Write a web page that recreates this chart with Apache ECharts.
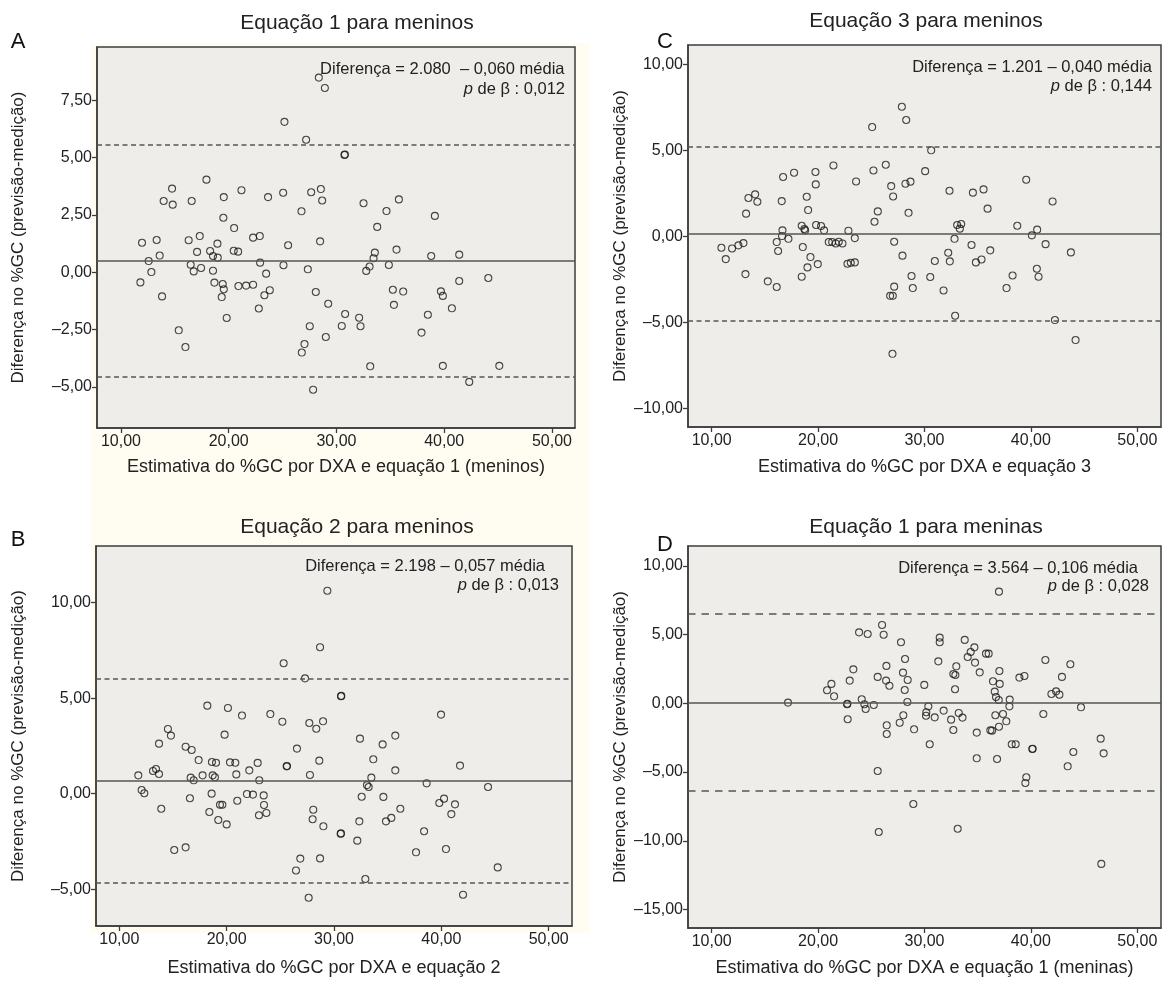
<!DOCTYPE html>
<html><head><meta charset="utf-8">
<script src="https://cdn.jsdelivr.net/npm/echarts@6/dist/echarts.min.js"></script>
<style>
html,body{margin:0;padding:0;background:#fff}
#wrap{position:relative;width:1168px;height:985px}
#cream{position:absolute;left:91px;top:43px;width:499px;height:890px;background:#fffdf2}
#c{position:absolute;left:0;top:0;width:1168px;height:985px}
</style>
</head><body><div id="wrap"><div id="cream"></div><div id="c"></div></div>
<script>
// ---------- DATA ----------
const TITLES = ['Equação 1 para meninos', 'Equação 3 para meninos', 'Equação 2 para meninos', 'Equação 1 para meninas'];
const LETTERS = ['A', 'C', 'B', 'D'];
const XNAMES = ['Estimativa do %GC por DXA e equação 1 (meninos)', 'Estimativa do %GC por DXA e equação 3', 'Estimativa do %GC por DXA e equação 2', 'Estimativa do %GC por DXA e equação 1 (meninas)'];
const YNAME = 'Diferença no %GC (previsão-medição)';
const EQUATIONS = ['Diferença = 2.080  – 0,060 média', 'Diferença = 1.201 – 0,040 média', 'Diferença = 2.198 – 0,057 média', 'Diferença = 3.564 – 0,106 média'];
const PVALUES = ['0,012', '0,144', '0,013', '0,028'];

const X_TICKS = [10, 20, 30, 40, 50];
const A_YTICKS = [-5, -2.5, 0, 2.5, 5, 7.5];
const C_YTICKS = [-10, -5, 0, 5, 10];
const B_YTICKS = [-5, 0, 5, 10];
const D_YTICKS = [-15, -10, -5, 0, 5, 10];

// reference lines: [mean, upper limit, lower limit]
const A_LINES = [0.51, 5.58, -4.55];
const C_LINES = [0.18, 5.21, -4.90];
const B_LINES = [0.68, 6.02, -4.68];
const D_LINES = [0.07, 6.50, -6.38];

const A_X = [28.36,28.92,25.17,27.18,17.93,14.74,13.96,14.80,16.56,19.54,21.18,23.65,25.05,27.65,28.55,28.67,26.75,19.50,20.50,11.95,13.31,13.59,12.57,12.82,11.80,13.81,16.28,17.31,17.06,16.47,16.75,17.43,18.27,18.54,18.95,18.98,18.54,18.67,19.44,19.54,19.35,19.81,20.46,20.87,20.90,21.61,22.26,22.26,22.88,22.91,23.47,23.31,23.81,22.79,15.36,15.98,25.51,25.08,27.34,28.48,28.08,29.23,27.52,29.01,27.03,26.78,27.83,
30.74,30.78,32.51,35.79,34.64,39.13,33.78,33.56,33.44,35.57,38.79,41.39,33.07,32.76,34.86,44.09,41.39,35.23,36.19,39.69,39.87,35.33,40.71,30.80,32.10,30.49,32.23,38.48,37.89,33.13,39.87,45.11,42.32];
const A_Y = [8.49,8.04,6.56,5.78,4.04,3.65,3.11,2.95,3.11,3.28,3.58,3.28,3.47,3.49,3.63,3.13,2.66,2.38,1.93,1.29,1.41,0.73,0.49,0.01,-0.44,-1.05,1.40,1.58,0.89,0.33,0.04,0.19,0.93,0.71,1.25,0.64,0.07,-0.45,-0.51,-0.74,-1.08,-1.99,0.94,0.90,-0.60,-0.58,-0.54,1.51,1.58,0.42,-0.06,-1.00,-0.78,-1.58,-2.53,-3.26,1.18,0.31,0.13,1.35,-0.86,-1.37,-2.35,-2.82,-3.13,-3.50,-5.12,
5.12,5.14,3.01,3.18,2.67,2.46,1.98,0.86,0.61,0.99,0.71,0.77,0.25,0.06,0.32,-0.25,-0.38,-0.76,-0.84,-0.83,-1.03,-1.42,-1.57,-1.82,-1.98,-2.34,-2.35,-1.85,-2.63,-4.10,-4.08,-4.08,-4.78];

const C_X = [27.87,28.28,25.08,21.44,26.36,25.20,17.74,19.75,16.71,19.78,23.57,26.87,28.21,28.68,27.05,14.08,13.45,14.29,16.58,18.93,19.06,13.23,25.61,28.50,25.30,18.46,18.71,18.78,19.81,20.28,20.56,16.65,16.61,17.21,16.11,16.24,12.98,12.51,11.91,10.91,11.32,13.17,15.27,16.11,18.56,19.28,19.00,18.46,19.97,21.00,21.32,21.66,21.94,22.29,22.85,23.45,22.76,23.07,23.45,27.15,27.93,28.78,28.90,27.15,26.77,27.02,26.99,
30.63,30.06,39.56,32.35,34.55,35.55,42.04,35.93,38.72,33.07,33.45,33.32,40.59,40.09,32.82,34.42,41.38,36.18,43.76,32.23,32.38,30.97,34.83,35.36,40.56,40.72,38.28,37.71,30.54,31.79,32.88,42.26,44.20];
const C_Y = [7.53,6.76,6.35,4.12,4.16,3.83,3.70,3.74,3.45,3.02,3.19,2.92,3.06,3.18,2.32,2.44,2.23,2.01,2.05,2.30,1.53,1.32,1.45,1.37,0.85,0.62,0.43,0.35,0.66,0.60,0.35,0.35,0.02,-0.14,-0.33,-0.85,-0.39,-0.52,-0.70,-0.66,-1.32,-2.19,-2.61,-2.94,-0.62,-1.20,-1.80,-2.34,-1.61,-0.33,-0.33,-0.41,-0.31,-0.41,0.33,-0.10,-1.59,-1.53,-1.51,-0.31,-1.12,-2.30,-3.00,-2.92,-3.45,-3.45,-6.82,
5.00,3.79,3.29,2.65,2.54,2.73,2.03,1.61,0.62,0.66,0.72,0.45,0.39,0.06,-0.14,-0.50,-0.45,-0.81,-0.93,-0.95,-1.45,-1.43,-1.51,-1.34,-1.88,-2.34,-2.27,-3.00,-2.36,-3.14,-4.61,-4.86,-6.02];

const B_X = [29.38,28.70,25.31,27.30,30.65,30.68,18.20,20.12,21.43,24.07,25.19,27.70,28.35,28.98,39.97,14.53,14.81,13.70,19.81,32.42,35.71,34.53,16.18,16.74,26.55,17.39,18.63,19.01,20.31,20.81,22.89,28.63,33.66,25.59,25.62,41.74,35.71,22.11,13.14,13.42,13.70,11.77,16.65,16.93,17.76,18.70,18.91,20.90,23.04,27.76,33.48,33.07,33.23,38.63,44.35,12.08,12.33,18.60,21.89,22.45,23.45,16.58,20.99,32.58,34.60,39.81,40.25,41.27,13.91,19.38,19.60,23.48,18.39,23.70,23.01,28.07,36.18,40.93,19.22,20.00,28.01,29.01,32.36,34.84,35.34,30.62,30.65,38.39,32.17,15.12,16.18,37.64,40.43,26.86,28.70,26.46,32.92,45.25,27.64,42.02];
const B_Y = [10.63,7.67,6.83,6.04,5.10,5.12,4.61,4.49,4.09,4.17,3.77,3.70,3.40,3.79,4.14,3.39,3.04,2.62,3.09,2.88,3.04,2.58,2.46,2.29,2.36,1.76,1.66,1.62,1.64,1.62,1.61,1.73,1.80,1.43,1.45,1.47,1.22,1.22,1.19,1.29,1.03,0.96,0.84,0.70,0.96,0.96,0.86,1.01,0.70,0.98,0.84,0.45,0.35,0.54,0.35,0.19,0.02,0.00,-0.02,-0.05,-0.09,-0.24,-0.37,-0.16,-0.17,-0.49,-0.26,-0.56,-0.79,-0.58,-0.58,-0.59,-0.96,-1.01,-1.13,-0.84,-0.79,-1.07,-1.38,-1.61,-1.34,-1.71,-1.45,-1.45,-1.27,-2.10,-2.08,-1.97,-2.46,-2.95,-2.81,-3.07,-2.90,-3.40,-3.39,-4.02,-4.47,-3.86,-5.45,-5.29];

const D_X = [26.01,23.85,24.66,26.16,27.79,28.17,26.42,27.98,23.31,22.97,21.25,20.84,21.50,25.60,26.39,26.70,28.42,28.14,29.98,17.17,22.72,22.75,24.10,24.35,24.47,25.23,28.39,22.78,28.01,27.67,26.45,26.45,29.02,25.60,28.95,25.70,
37.00,31.43,31.43,33.78,34.69,34.34,34.06,35.78,36.03,31.30,32.99,34.75,41.36,43.71,35.19,32.71,32.90,37.04,38.92,39.39,42.92,32.87,36.44,37.07,36.60,36.72,36.98,38.01,37.98,41.93,42.37,42.68,30.36,30.17,30.14,30.96,31.80,33.22,33.57,32.50,32.71,36.66,37.38,37.69,37.00,36.19,36.35,34.91,44.71,41.17,30.49,38.20,38.57,40.14,40.16,46.56,43.99,46.84,43.46,34.91,36.82,39.57,39.48,33.12,46.62];
const D_Y = [5.70,5.16,5.04,4.99,4.44,3.22,2.72,2.23,2.47,1.65,1.41,0.95,0.51,1.92,1.65,1.28,1.70,0.97,1.34,0.05,-0.07,-0.03,0.29,-0.07,-0.41,-0.12,0.10,-1.16,-0.87,-1.41,-1.60,-2.23,-1.89,-4.92,-7.32,-9.36,
8.12,4.78,4.44,4.61,4.07,3.73,3.37,3.61,3.61,3.05,2.69,2.96,3.15,2.84,2.25,2.13,2.06,2.35,1.87,1.99,1.92,1.02,1.60,1.41,0.85,0.46,0.24,0.27,-0.22,0.68,0.87,0.63,-0.22,-0.65,-0.90,-1.02,-0.53,-0.70,-1.04,-1.19,-1.94,-0.87,-0.78,-1.31,-1.70,-1.96,-1.99,-2.13,-0.29,-0.78,-2.98,-2.98,-2.98,-3.32,-3.30,-2.57,-3.54,-3.64,-4.58,-4.00,-4.05,-5.38,-5.79,-9.12,-11.68];

// ---------- LAYOUT ----------
const FONT = "'Liberation Sans', Arial, Helvetica, sans-serif";
const TXT = '#222';
const panels = [
  {xs:A_X, ys:A_Y, lines:A_LINES, yt:A_YTICKS, grid:{left:97, top:47, width:478, height:381}, xr:[7.773,52.135], yr:[-6.79,9.825], xng:30, yng:70, title:[357,23.5], letter:[18,42], eq:[[564.5,69.5],[565,89.5]], dash:[5,3.5]},
  {xs:C_X, ys:C_Y, lines:C_LINES, yt:C_YTICKS, grid:{left:688, top:45, width:473, height:382}, xr:[7.77,52.23], yr:[-11.07,11.115], xng:31, yng:59, title:[926,21], letter:[665,42], eq:[[1152,67.5],[1152,86]], dash:[5,3.5]},
  {xs:B_X, ys:B_Y, lines:B_LINES, yt:B_YTICKS, grid:{left:96, top:546, width:476, height:380}, xr:[7.83,52.17], yr:[-6.93,12.97], xng:33, yng:69, title:[357,527], letter:[18,540], eq:[[545,566.7],[559,585.7]], dash:[5,3.5]},
  {xs:D_X, ys:D_Y, lines:D_LINES, yt:D_YTICKS, grid:{left:688, top:546, width:473, height:382}, xr:[7.77,52.23], yr:[-16.34,11.44], xng:31, yng:59, title:[926,527], letter:[665,545], eq:[[1138,568],[1149,586]], dash:[7.5,6]}
];

function fmt(v){
  const s = Math.abs(v).toFixed(2).replace('.', ',');
  return v < 0 ? '–' + s : s;
}

const grids = [], xAxes = [], yAxes = [], series = [], graphics = [];
panels.forEach((p, i) => {
  grids.push(Object.assign({show:true, backgroundColor:'#eeedea', borderColor:'#3c3c3c', borderWidth:1.5, containLabel:false}, p.grid));
  xAxes.push({
    type:'value', gridIndex:i, min:p.xr[0], max:p.xr[1],
    axisLine:{show:true, onZero:false, lineStyle:{color:'#3c3c3c', width:1.5}},
    splitLine:{show:false},
    axisTick:{show:true, customValues:X_TICKS, length:5, lineStyle:{color:'#3c3c3c', width:1.3}},
    axisLabel:{customValues:X_TICKS, formatter:fmt, fontSize:16, color:TXT, fontFamily:FONT, margin:6},
    name:XNAMES[i], nameLocation:'middle', nameGap:p.xng,
    nameTextStyle:{fontSize:18, color:TXT, fontFamily:FONT}
  });
  yAxes.push({
    type:'value', gridIndex:i, min:p.yr[0], max:p.yr[1],
    axisLine:{show:true, onZero:false, lineStyle:{color:'#3c3c3c', width:1.5}},
    splitLine:{show:false},
    axisTick:{show:true, customValues:p.yt, length:5, lineStyle:{color:'#3c3c3c', width:1.3}},
    axisLabel:{customValues:p.yt, formatter:fmt, fontSize:16, color:TXT, fontFamily:FONT, margin:5},
    name:YNAME, nameLocation:'middle', nameGap:p.yng,
    nameTextStyle:{fontSize:17, color:TXT, fontFamily:FONT}
  });
  series.push({
    type:'scatter', xAxisIndex:i, yAxisIndex:i,
    data:p.xs.map((x, k) => [x, p.ys[k]]),
    symbol:'circle', symbolSize:7,
    itemStyle:{color:'rgba(0,0,0,0)', borderColor:'#1a1a1a', borderWidth:1.1},
    emphasis:{disabled:true},
    markLine:{
      silent:true, symbol:['none','none'], label:{show:false}, animation:false,
      data:[
        {yAxis:p.lines[0], lineStyle:{type:'solid', color:'#555', width:1.6}},
        {yAxis:p.lines[1], lineStyle:{type:p.dash, color:'#555', width:1.6}},
        {yAxis:p.lines[2], lineStyle:{type:p.dash, color:'#555', width:1.6}}
      ]
    }
  });
  graphics.push({type:'text', x:p.title[0], y:p.title[1], style:{text:TITLES[i], fontSize:21, fontFamily:FONT, fill:TXT, align:'center', verticalAlign:'middle'}});
  graphics.push({type:'text', x:p.letter[0], y:p.letter[1], style:{text:LETTERS[i], fontSize:22, fontFamily:FONT, fill:'#111', align:'center', verticalAlign:'middle'}});
  graphics.push({type:'text', x:p.eq[0][0], y:p.eq[0][1], z:10, style:{text:EQUATIONS[i], fontSize:16.5, fontFamily:FONT, fill:TXT, align:'right', verticalAlign:'middle'}});
  graphics.push({type:'text', x:p.eq[1][0], y:p.eq[1][1], z:10, style:{
    text:'{i|p} de β : ' + PVALUES[i], fontSize:16.5, fontFamily:FONT, fill:TXT, align:'right', verticalAlign:'middle',
    rich:{i:{fontStyle:'italic', fontSize:16.5, fontFamily:FONT, fill:TXT}}
  }});
});

const chart = echarts.init(document.getElementById('c'), null, {renderer:'canvas'});
chart.setOption({
  backgroundColor:'transparent',
  animation:false,
  grid:grids, xAxis:xAxes, yAxis:yAxes, series:series,
  graphic:{elements:graphics}
});
</script></body></html>
